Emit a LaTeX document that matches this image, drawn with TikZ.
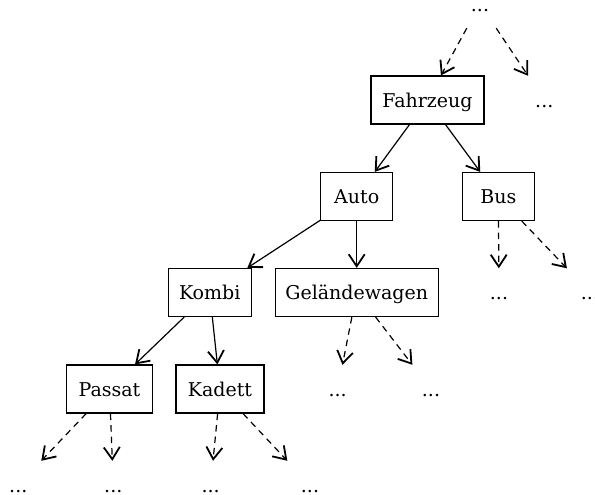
\documentclass[tikz,border=0pt]{standalone}
\usepackage{fontspec}
\setmainfont{DejaVu Serif}
\usetikzlibrary{arrows.meta}
\begin{document}
\begin{tikzpicture}[x=1pt,y=-1pt,
  every node/.style={font=\fontsize{19}{23}\selectfont, text height=18.5pt, text depth=4pt, inner sep=0pt},
  box/.style={draw, line width=1.2pt, minimum height=48pt},
  dotnode/.style={minimum width=72pt, minimum height=48pt},
  edge/.style={-{Straight Barb[length=12pt,width=16pt,line width=1.8pt]}, line width=1.2pt},
  dedge/.style={edge, dash pattern=on 6.5pt off 5pt}]
\useasboundingbox (0,0) rectangle (595,495);
% boxes
\node[box, minimum width=113pt] (fz) at (427.5,100) {Fahrzeug};
\node[box, minimum width=72pt] (auto) at (356.7,196.5) {Auto};
\node[box, minimum width=72pt] (bus) at (498.3,196.5) {Bus};
\node[box, minimum width=83pt] (kombi) at (209.7,292.5) {Kombi};
\node[box, minimum width=163pt] (gw) at (356.7,292.5) {Geländewagen};
\node[box, minimum width=86pt] (passat) at (109.5,389) {Passat};
\node[box, minimum width=88pt] (kadett) at (220,389) {Kadett};
% dots
\node[dotnode] (dtop) at (480,4) {...};
\node[dotnode] (dfz) at (544.3,100) {...};
\node[dotnode] (dbus1) at (499,292.5) {...};
\node[dotnode] (dbus2) at (590,292.5) {...};
\node[dotnode] (dgw1) at (337.7,389) {...};
\node[dotnode] (dgw2) at (431,389) {...};
\node[dotnode] (dp1) at (18.3,485) {...};
\node[dotnode] (dp2) at (113.3,485) {...};
\node[dotnode] (dk1) at (210.7,485) {...};
\node[dotnode] (dk2) at (310,485) {...};
% edges
\draw[dedge] (dtop) -- (fz);
\draw[dedge] (dtop) -- (dfz);
\draw[edge] (fz) -- (auto);
\draw[edge] (fz) -- (bus);
\draw[dedge] (bus) -- (dbus1);
\draw[dedge] (bus) -- (dbus2);
\draw[edge] (auto) -- (kombi);
\draw[edge] (auto) -- (gw);
\draw[dedge] (gw) -- (dgw1);
\draw[dedge] (gw) -- (dgw2);
\draw[edge] (kombi) -- (passat);
\draw[edge] (kombi) -- (kadett);
\draw[dedge] (passat) -- (dp1);
\draw[dedge] (passat) -- (dp2);
\draw[dedge] (kadett) -- (dk1);
\draw[dedge] (kadett) -- (dk2);
\end{tikzpicture}
\end{document}
